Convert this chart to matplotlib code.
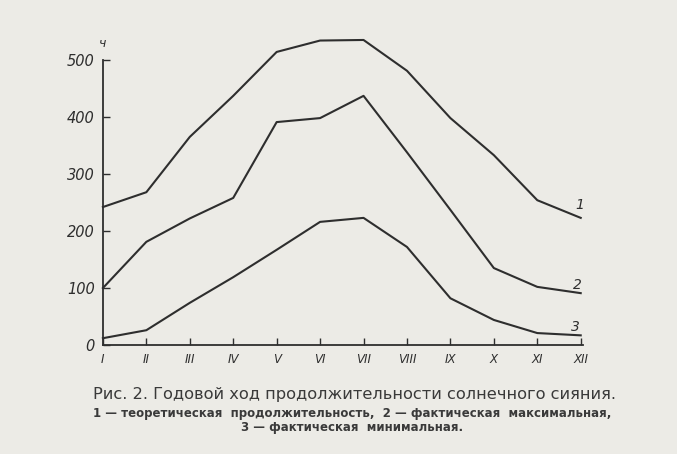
import matplotlib
matplotlib.use("Agg")
import matplotlib.pyplot as plt

PAPER = "#ecebe6"
INK = "#2e2e2e"

months = ["I", "II", "III", "IV", "V", "VI", "VII", "VIII", "IX", "X", "XI", "XII"]
theoretical = [242, 268, 365, 437, 514, 534, 535, 481, 398, 333, 254, 223]
fact_max = [100, 181, 222, 258, 391, 398, 437, 338, 237, 135, 102, 91]
fact_min = [12, 26, 74, 119, 167, 216, 223, 172, 82, 44, 21, 17]
series_labels = ["1", "2", "3"]
y_ticks = [0, 100, 200, 300, 400, 500]

fig = plt.figure(figsize=(6.77, 4.54), dpi=100)
fig.patch.set_facecolor(PAPER)
ax = fig.add_axes([0.152, 0.240, 0.709, 0.628])
ax.set_facecolor("none")

x = list(range(1, len(months) + 1))
for vals in [theoretical, fact_max, fact_min]:
    ax.plot(x, vals, color=INK, lw=1.5, clip_on=False, solid_joinstyle="round")

ax.set_xlim(1, 12.05)
ax.set_ylim(0, 500)
ax.set_xticks(x)
ax.set_xticklabels(months, fontstyle="italic", fontsize=8.5, color=INK)
ax.set_yticks(y_ticks)
ax.set_yticklabels([str(v) for v in y_ticks], fontstyle="italic", fontsize=10.5, color=INK)
ax.tick_params(axis="both", direction="in", length=5, width=1.0, color=INK, pad=6)
for side in ["top", "right"]:
    ax.spines[side].set_visible(False)
for side in ["left", "bottom"]:
    ax.spines[side].set_color(INK)
    ax.spines[side].set_linewidth(1.3)

# подписи кривых у правого края
for vals, lab, dx, dy in zip([theoretical, fact_max, fact_min], series_labels,
                             [11.97, 11.92, 11.87], [15, 8, 7]):
    ax.text(dx, vals[-1] + dy, lab, fontstyle="italic", fontsize=10, color=INK, ha="center")
ax.text(1.0, 518, "ч", fontstyle="italic", fontsize=9, color=INK, ha="center", va="bottom")

# подпись к рисунку
fig.text(0.523, 1 - 395 / 454, "Рис. 2. Годовой ход продолжительности солнечного сияния.",
         ha="center", va="center", fontsize=11.7, color="#3a3a3a", family="DejaVu Sans")
fig.text(0.52, 1 - 413 / 454,
         "1 — теоретическая  продолжительность,  2 — фактическая  максимальная,",
         ha="center", va="center", fontsize=8.5, fontweight="bold", color="#3a3a3a",
         family="DejaVu Sans")
fig.text(0.52, 1 - 428 / 454, "3 — фактическая  минимальная.",
         ha="center", va="center", fontsize=8.5, fontweight="bold", color="#3a3a3a",
         family="DejaVu Sans")

fig.savefig("out.png", dpi=100, facecolor=PAPER)
